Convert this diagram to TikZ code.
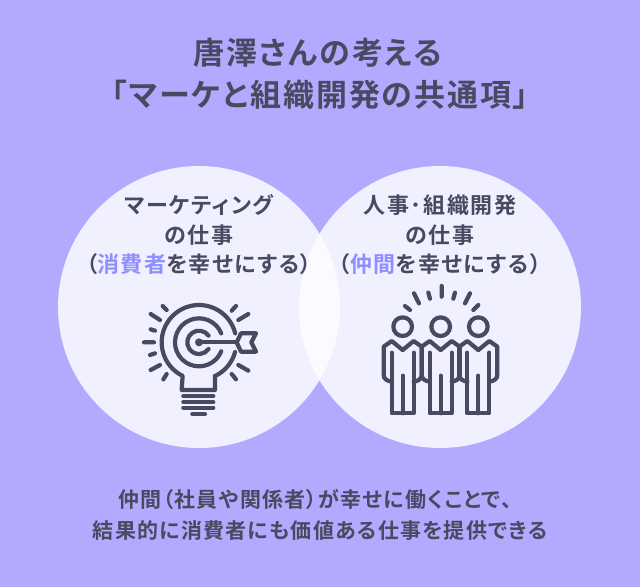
\documentclass[tikz,border=0pt]{standalone}
\usepackage{fontspec}
\setmainfont{Noto Sans CJK JP}[BoldFont={Noto Sans CJK JP Bold},RawFeature={+palt}]
\definecolor{bgc}{HTML}{B3AAFF}
\definecolor{circ}{HTML}{F0F0FF}
\definecolor{lens}{HTML}{FAFAFF}
\definecolor{ink}{HTML}{474A60}
\definecolor{hl}{HTML}{8F8FFF}
\tikzset{
 titletext/.style={text=ink,inner sep=0,font=\fontsize{31}{31}\bfseries\addfontfeatures{LetterSpace=6}},
 bodytext/.style={text=ink,inner sep=0,font=\fontsize{22}{22}\bfseries\addfontfeatures{LetterSpace=7}},
 bottomtext/.style={text=ink,inner sep=0,font=\fontsize{21}{21}\bfseries\addfontfeatures{LetterSpace=6}},
 icon/.style={draw=ink,line width=4.2pt,line cap=round,line join=round},
 zoomA/.style={x=0.33333pt,y=-0.33333pt,shift={(130pt,-290pt)}},
 zoomB/.style={x=0.33333pt,y=-0.33333pt,shift={(370pt,-280pt)}},
}
\begin{document}
\begin{tikzpicture}[x=1pt,y=-1pt]
\useasboundingbox (0,0) rectangle (640,587);
\fill[bgc] (0,0) rectangle (640,587);
\fill[circ] (199,307) circle[radius=141];
\fill[circ] (440,307) circle[radius=141];
\begin{scope}
\clip (199,307) circle[radius=141];
\fill[lens] (440,307) circle[radius=141];
\end{scope}
\node[titletext] (t1) at (318,53) {唐澤さんの考える};
\node[titletext] (t2) at (320,95) {「マーケと組織開発の共通項」};
\node[bodytext] (a1) at (199,205) {マーケティング};
\node[bodytext] (a2) at (199,235) {の仕事};
\node[bodytext] (a3) at (199,264) {（\textcolor{hl}{消費者}を幸せにする）};
\node[bodytext] (b1) at (440,205) {人事･組織開発};
\node[bodytext] (b2) at (440,235) {の仕事};
\node[bodytext] (b3) at (440,264) {（\textcolor{hl}{仲間}を幸せにする）};
\node[bottomtext] (c1) at (315,499) {仲間（社員や関係者）が幸せに働くことで、};
\node[bottomtext] (c2) at (320,531) {結果的に消費者にも価値ある仕事を提供できる};
% bulb
\begin{scope}[zoomA]
\draw[icon] (207,157)++(-14:112) arc[start angle=-14,end angle=-244,radius=112] -- (155,300) -- (255,300) -- (255,258);
\draw[icon] (207,157)++(15:112) arc[start angle=15,end angle=65,radius=112];
\draw[icon] (207,157)++(-22:72) arc[start angle=-22,end angle=-338,radius=72];
\draw[icon] (207,157)++(-35:35) arc[start angle=-35,end angle=-325,radius=35];
\fill[ink] (207,157) circle[radius=12];
\draw[icon] (207,157) -- (320,157);
\draw[icon] (320,157) -- (333,130) -- (378,130) -- (364,157) -- (378,185) -- (333,185) -- cycle;
\draw[icon] (160,318) -- (250,318) (160,336) -- (250,336) (160,353) -- (250,353) (187,372) -- (225,372);
\draw[icon] (42,157)--(72,157) (60,195)--(75,190) (62,240)--(90,225) (100,268)--(110,252) (62,118)--(75,122) (62,72)--(90,90) (98,48)--(110,60);
\draw[icon] (305,62)--(318,48) (325,90)--(355,72) (325,225)--(355,242) (305,252)--(318,268);
\end{scope}
% people
\begin{scope}[zoomB]
\foreach \c in {98,212,325}{
 \draw[icon] (\c,140) circle[radius=28];
 \draw[icon] (\c,210) -- (\c-33,183) -- (\c-57,200) -- (\c-57,285) .. controls (\c-57,298) and (\c-45,303) .. (\c-33,305);
 \draw[icon] (\c,210) -- (\c+33,183) -- (\c+57,200) -- (\c+57,285) .. controls (\c+57,298) and (\c+45,303) .. (\c+33,305);
 \draw[icon] (\c-33,218) -- (\c-33,400) -- (\c+33,400) -- (\c+33,218);
 \draw[icon] (\c,287) -- (\c,400);
}
\draw[icon] (215,18)--(215,50) (175,38)--(180,56) (132,40)--(147,70) (105,78)--(120,90) (255,38)--(250,56) (300,40)--(285,70) (325,75)--(310,90);
\end{scope}
\end{tikzpicture}
\end{document}
